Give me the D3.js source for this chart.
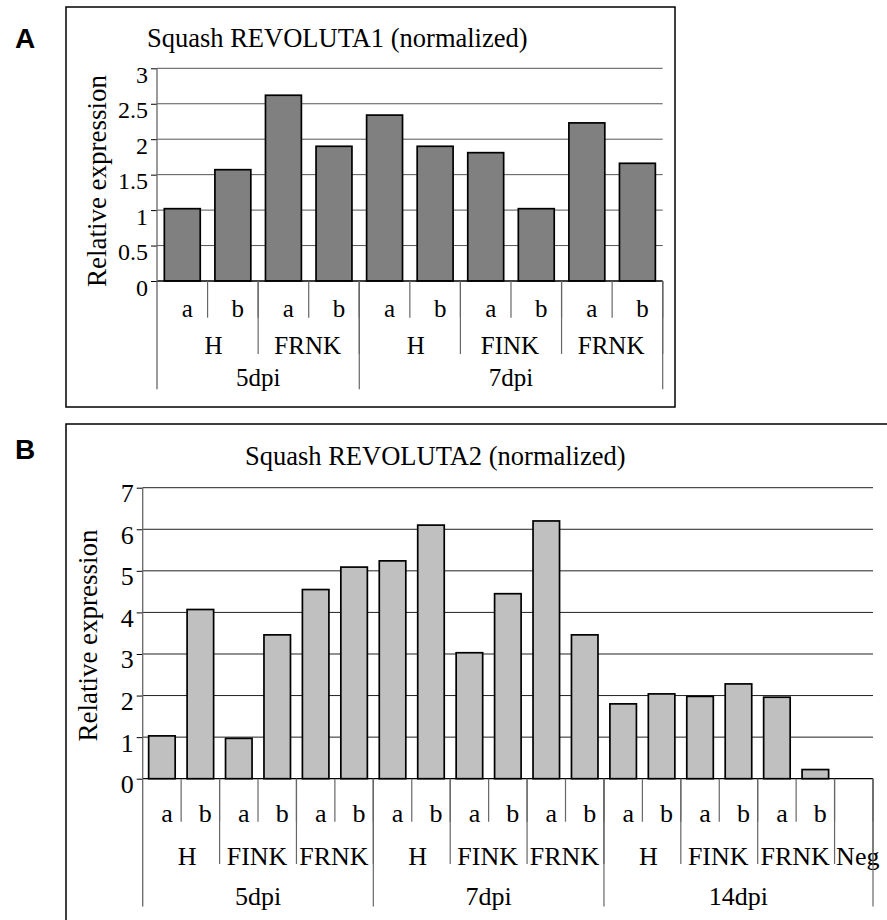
<!DOCTYPE html>
<html>
<head>
<meta charset="utf-8">
<script src="https://cdn.jsdelivr.net/npm/d3@7"></script>
<style>
  body { margin: 0; background: #fff; }
  svg { display: block; }
</style>
</head>
<body>
<svg id="fig" width="887" height="920"></svg>
<script>
// ---- panel A data
const catsA = ['a','b','a','b','a','b','a','b','a','b'];
const groupsA = ['H','FRNK','H','FINK','FRNK'];
const groupSpansA = [2,2,2,2,2];
const timesA = ['5dpi','7dpi'];
const timeSpansA = [4,6];
const valuesA = [1.02,1.57,2.62,1.90,2.34,1.90,1.81,1.02,2.23,1.66];
const ticksA = [0,0.5,1,1.5,2,2.5,3];

// ---- panel B data
const catsB = ['a','b','a','b','a','b','a','b','a','b','a','b','a','b','a','b','a','b',''];
const groupsB = ['H','FINK','FRNK','H','FINK','FRNK','H','FINK','FRNK','Neg'];
const groupSpansB = [2,2,2,2,2,2,2,2,2,1];
const timesB = ['5dpi','7dpi','14dpi'];
const timeSpansB = [6,6,7];
const valuesB = [1.03,4.07,0.97,3.46,4.55,5.09,5.24,6.10,3.03,4.45,6.20,3.46,1.80,2.04,1.98,2.28,1.96,0.22,0];
const ticksB = [0,1,2,3,4,5,6,7];

const SERIF = '"Liberation Serif", "Times New Roman", "DejaVu Serif", serif';

let svg = d3.select('#fig');

function drawPanel(p) {
  let g = svg.append('g');

  // frame
  g.append('rect')
    .attr('x', p.box[0]).attr('y', p.box[1])
    .attr('width', p.box[2]).attr('height', p.box[3])
    .attr('fill', 'none').attr('stroke', '#000').attr('stroke-width', 1.5);

  g.append('text')
    .text(p.letter)
    .attr('x', 15).attr('y', p.letterY)
    .style('font-family', '"Liberation Sans", Arial, sans-serif')
    .style('font-weight', 'bold')
    .style('font-size', '28px');

  g.append('text')
    .text(p.title)
    .attr('x', p.titleX).attr('y', p.titleY)
    .style('font-family', SERIF)
    .style('font-size', '26.5px');

  let x = d3.scaleBand()
    .domain(d3.range(p.cats.length))
    .range([p.x0, p.x1])
    .paddingInner(p.pad)
    .paddingOuter(p.pad / 2);

  let y = d3.scaleLinear()
    .domain([0, d3.max(p.ticks)])
    .range([p.y0, p.yTop]);

  // gridlines
  g.selectAll('.grid')
    .data(p.ticks.filter(d => d > 0))
    .join('line')
    .attr('x1', p.x0).attr('x2', p.x1)
    .attr('y1', d => y(d)).attr('y2', d => y(d))
    .attr('stroke', p.gridColor).attr('stroke-width', 1);

  // y axis
  let yAxis = g.append('g')
    .attr('transform', `translate(${p.x0},0)`)
    .call(d3.axisLeft(y).tickValues(p.ticks).tickSize(6).tickSizeOuter(0).tickPadding(3).tickFormat(d => String(d)));
  yAxis.select('.domain').remove();
  yAxis.attr('font-family', null).attr('font-size', null);
  yAxis.selectAll('line').attr('stroke', '#000');
  yAxis.selectAll('text')
    .attr('dy', null).attr('y', 14)
    .attr('fill', '#000')
    .style('font-size', p.tickSize + 'px')
    .style('font-family', SERIF);

  // bars
  g.selectAll('.bar')
    .data(p.values.map((v, i) => ({v: v, i: i})).filter(d => d.v > 0))
    .join('rect')
    .attr('x', d => x(d.i))
    .attr('width', x.bandwidth())
    .attr('y', d => y(d.v))
    .attr('height', d => y(0) - y(d.v))
    .attr('fill', p.fill)
    .attr('stroke', '#000')
    .attr('stroke-width', 1.7);

  // category axis line + vertical axis line
  g.append('line')
    .attr('x1', p.x0).attr('x2', p.x1)
    .attr('y1', p.y0).attr('y2', p.y0)
    .attr('stroke', '#000').attr('stroke-width', 1.3);
  g.append('line')
    .attr('x1', p.x0).attr('x2', p.x0)
    .attr('y1', p.yTop).attr('y2', p.rows[2].bottom)
    .attr('stroke', '#666').attr('stroke-width', 1.3);

  let step = x.step();
  let edge = i => p.x0 + i * step;

  // hierarchical category levels
  let levels = [
    {labels: p.cats, spans: p.cats.map(() => 1)},
    {labels: p.groups, spans: p.groupSpans},
    {labels: p.times, spans: p.timeSpans}
  ];

  levels.forEach((lev, k) => {
    let start = 0;
    let items = lev.labels.map((lab, j) => {
      let it = {label: lab, a: start, b: start + lev.spans[j]};
      start += lev.spans[j];
      return it;
    });
    let row = p.rows[k];

    g.selectAll('.sep' + k)
      .data(items)
      .join('line')
      .attr('x1', d => edge(d.b)).attr('x2', d => edge(d.b))
      .attr('y1', p.y0).attr('y2', row.bottom)
      .attr('stroke', '#666').attr('stroke-width', 1.2);

    g.selectAll('.lab' + k)
      .data(items)
      .join('text')
      .text(d => d.label)
      .attr('text-anchor', 'middle')
      .attr('x', d => {
        let c = (edge(d.a) + edge(d.b)) / 2;
        if (k == 0) return c + 5;
        if (k == 1) {
          if (d.b - d.a == 1) return c + 4;
          return c + (d.label.length <= 1 ? 6 : -1);
        }
        return c;
      })
      .attr('y', row.base)
      .style('font-family', SERIF)
      .style('font-size', p.catSize + 'px');
  });

  // y title
  g.append('text')
    .text('Relative expression')
    .attr('text-anchor', 'middle')
    .attr('transform', `translate(${p.yLabX},${p.yLabY}) rotate(-90)`)
    .style('font-family', SERIF)
    .style('font-size', '27px');
}

drawPanel({
  letter: 'A', letterY: 48,
  box: [66, 7, 609, 400],
  title: 'Squash REVOLUTA1 (normalized)', titleX: 147, titleY: 46.5,
  cats: catsA, groups: groupsA, groupSpans: groupSpansA, times: timesA, timeSpans: timeSpansA,
  values: valuesA, ticks: ticksA,
  x0: 157, x1: 662.7, y0: 281, yTop: 68.3, pad: 0.29,
  fill: '#808080', gridColor: '#555',
  tickSize: 24, catSize: 25,
  rows: [{bottom: 317.7, base: 317}, {bottom: 354, base: 354}, {bottom: 389.3, base: 386}],
  yLabX: 106, yLabY: 181
});

drawPanel({
  letter: 'B', letterY: 458.5,
  box: [66, 424, 900, 600],
  title: 'Squash REVOLUTA2 (normalized)', titleX: 245, titleY: 465,
  cats: catsB, groups: groupsB, groupSpans: groupSpansB, times: timesB, timeSpans: timeSpansB,
  values: valuesB, ticks: ticksB,
  x0: 142.7, x1: 873, y0: 778.7, yTop: 487.7, pad: 0.31,
  fill: '#c0c0c0', gridColor: '#222',
  tickSize: 26, catSize: 26,
  rows: [{bottom: 821.7, base: 821.7}, {bottom: 864, base: 865}, {bottom: 906.5, base: 905}],
  yLabX: 97, yLabY: 635.5
});
</script>
</body>
</html>
